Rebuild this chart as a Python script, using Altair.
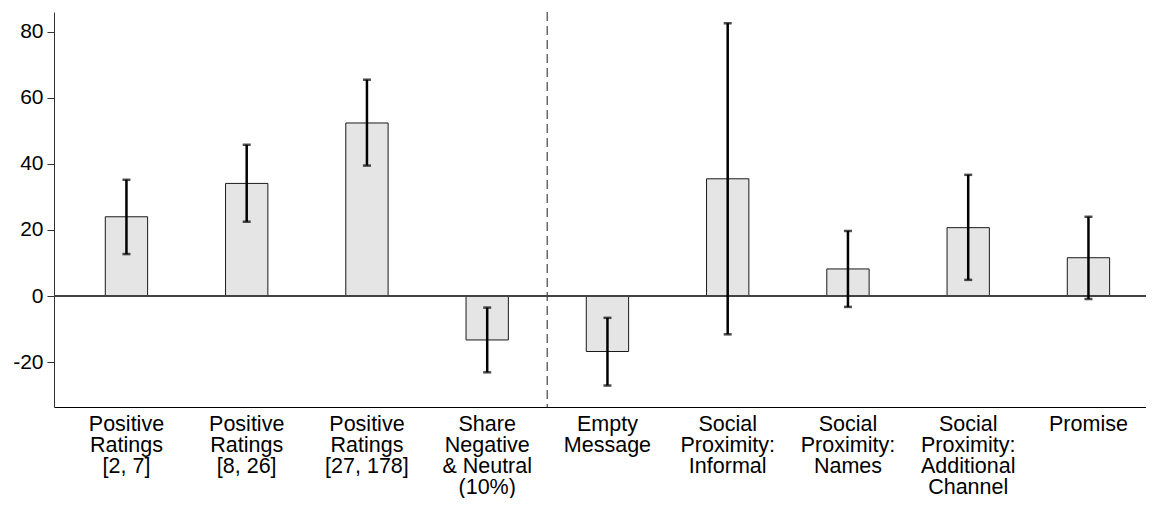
import altair as alt
import pandas as pd

categories = [
    "Positive|Ratings|[2, 7]",
    "Positive|Ratings|[8, 26]",
    "Positive|Ratings|[27, 178]",
    "Share|Negative|& Neutral|(10%)",
    "Empty|Message",
    "Social|Proximity:|Informal",
    "Social|Proximity:|Names",
    "Social|Proximity:|Additional|Channel",
    "Promise",
]
estimates = [24.0, 34.1, 52.4, -13.3, -16.8, 35.5, 8.2, 20.7, 11.6]
ci_low = [12.7, 22.5, 39.5, -23.1, -27.1, -11.6, -3.3, 4.9, -0.9]
ci_high = [35.2, 45.8, 65.5, -3.5, -6.6, 82.6, 19.7, 36.7, 24.0]
y_ticks = [-20, 0, 20, 40, 60, 80]
divider_after = categories[3]

df = pd.DataFrame({"cat": categories, "est": estimates, "lo": ci_low, "hi": ci_high})

W, H = 1092, 395
FONT = "Liberation Sans"

xscale = alt.Scale(domain=categories, paddingInner=0.648, paddingOuter=0.3645, align=0.585)
yscale = alt.Scale(domain=[-33.6, 86.0], nice=False, zero=False)

xaxis = alt.Axis(
    title=None, labelAngle=0, labelExpr="split(datum.value, '|')", ticks=False,
    domainColor="black", domainWidth=1, labelFontSize=21.5, labelLineHeight=21.2,
    labelPadding=6, labelFont=FONT, labelColor="black", labelBaseline="top",
    labelOverlap=False, labelLimit=200,
)
yaxis = alt.Axis(
    title=None, values=y_ticks, grid=False, tickSize=7, tickColor="#333",
    domainColor="#333", labelFontSize=21, labelPadding=4, labelFont=FONT,
    labelColor="black", labelExpr="toString(datum.value)",
)

def X():
    return alt.X("cat:N", scale=xscale, sort=categories, axis=xaxis)

def Y(field):
    return alt.Y(field, scale=yscale, axis=yaxis)

base = alt.Chart(df)

bars = base.mark_bar(fill="#e5e5e5", stroke="#1a1a1a", strokeWidth=1).encode(
    x=X(), y=Y("est:Q"), y2=alt.datum(0)
)
zero = base.mark_rule(color="#444", strokeWidth=1).encode(
    y=alt.Y(datum=0, scale=yscale, axis=yaxis)
)
err = base.mark_rule(color="black", strokeWidth=2.5).encode(
    x=X(), y=Y("lo:Q"), y2="hi:Q"
)
cap_lo = base.mark_tick(color="black", thickness=2.5, size=8).encode(
    x=X(), y=Y("lo:Q")
)
cap_hi = base.mark_tick(color="black", thickness=2.5, size=8).encode(
    x=X(), y=Y("hi:Q")
)
divider = base.transform_filter(alt.datum.cat == divider_after).mark_rule(
    color="#444", strokeWidth=1.2, strokeDash=[9, 5], xOffset=60
).encode(x=X())

chart = alt.layer(bars, zero, err, cap_lo, cap_hi, divider).properties(
    width=W, height=H,
    autosize=alt.AutoSizeParams(type="none"),
    padding={"left": 46, "top": 4, "right": 0, "bottom": 91},
).configure_view(stroke=None)

chart.save("out.html", embed_options={"renderer": "svg", "actions": False})
